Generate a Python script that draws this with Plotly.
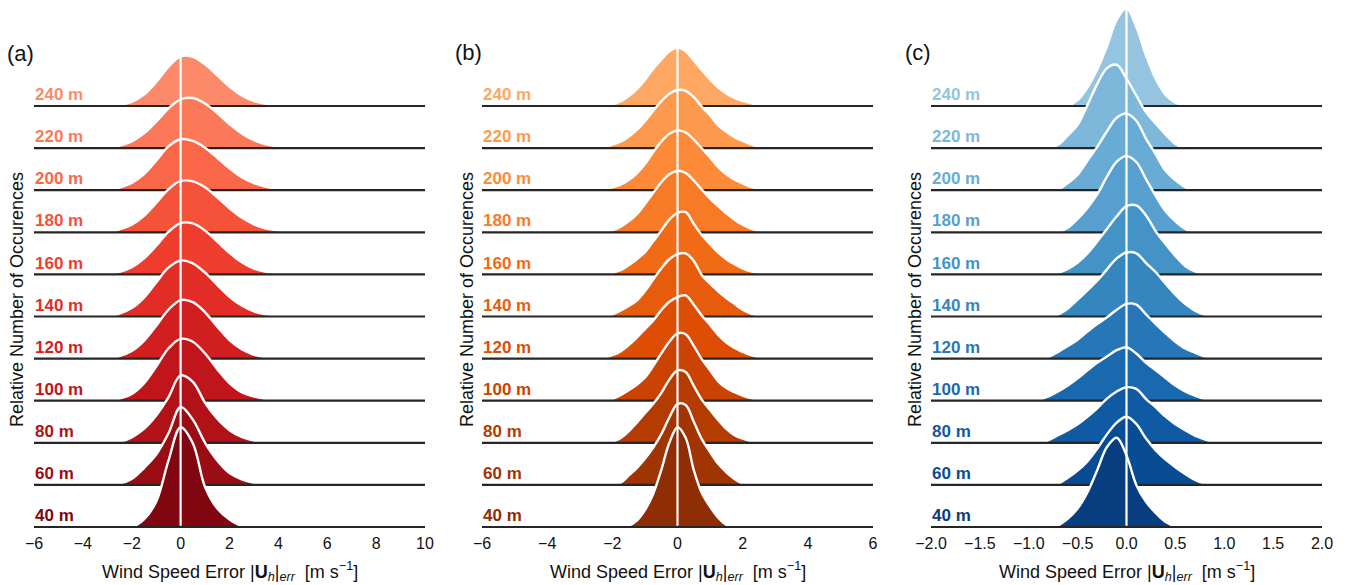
import plotly.graph_objects as go

# ---------------- data ----------------
HEIGHTS = ["40 m", "60 m", "80 m", "100 m", "120 m", "140 m",
           "160 m", "180 m", "200 m", "220 m", "240 m"]

# panel (a): grid of wind-speed error and relative occurrences per height
XA = [-3.0, -2.5, -2.0, -1.5, -1.0, -0.5, 0.0, 0.5, 1.0, 1.5, 2.0, 2.5, 3.0, 3.5, 4.0, 4.5]
A040 = [0, 0, 0, .18, .60, 1.57, 2.37, 1.99, .95, .44, .18, .03, 0, 0, 0, 0]
A060 = [0, .03, .14, .40, .72, 1.22, 1.85, 1.55, 1.00, .58, .28, .13, .05, .01, 0, 0]
A080 = [0, .02, .13, .33, .65, 1.08, 1.60, 1.45, .95, .57, .30, .14, .05, .01, 0, 0]
A100 = [0, .05, .16, .41, .81, 1.24, 1.47, 1.40, 1.12, .75, .42, .20, .10, .04, .01, 0]
A120 = [0, .06, .18, .42, .78, 1.16, 1.39, 1.34, 1.10, .76, .44, .22, .09, .03, .01, 0]
A140 = [0, .07, .20, .45, .81, 1.16, 1.33, 1.26, 1.04, .75, .47, .26, .12, .05, .02, 0]
A160 = [0, .06, .17, .38, .68, 1.01, 1.22, 1.21, 1.04, .78, .51, .29, .14, .06, .02, 0]
A180 = [0, .07, .18, .39, .70, 1.02, 1.22, 1.21, 1.07, .83, .57, .35, .19, .09, .04, 0]
A200 = [0, .06, .17, .38, .70, 1.04, 1.21, 1.17, 1.01, .77, .52, .31, .17, .08, .03, 0]
A220 = [0, .06, .16, .35, .63, .94, 1.16, 1.19, 1.06, .83, .57, .35, .19, .09, .04, 0]
A240 = [0, .03, .10, .27, .57, .93, 1.18, 1.17, .99, .73, .46, .25, .12, .05, .02, 0]

# panel (b)
XB = [-2.5, -2.25, -2.0, -1.75, -1.5, -1.25, -1.0, -0.75, -0.5, -0.25, 0.0,
      0.25, 0.5, 0.75, 1.0, 1.25, 1.5, 1.75, 2.0, 2.25, 2.5, 2.75]
B040 = [0, 0, 0, 0, .03, .15, .40, .78, 1.35, 2.00, 2.37, 2.12, 1.35, .80, .48, .22, .05, 0, 0, 0, 0, 0]
B060 = [0, 0, 0, .05, .22, .40, .62, .88, 1.20, 1.60, 1.92, 1.90, 1.50, 1.08, .78, .50, .30, .14, .03, 0, 0, 0]
B080 = [0, 0, .03, .11, .27, .48, .70, .92, 1.18, 1.50, 1.72, 1.68, 1.35, 1.02, .78, .54, .33, .18, .10, .04, .01, 0]
B100 = [0, .01, .04, .13, .25, .38, .55, .82, 1.12, 1.40, 1.60, 1.58, 1.30, .98, .72, .46, .30, .20, .12, .06, .02, 0]
B120 = [0, .02, .08, .17, .32, .50, .70, .90, 1.15, 1.35, 1.46, 1.50, 1.28, 1.02, .80, .56, .38, .25, .16, .08, .03, 0]
B140 = [0, .01, .05, .14, .25, .38, .60, .87, 1.14, 1.36, 1.48, 1.50, 1.32, .98, .78, .60, .44, .30, .16, .07, .03, 0]
B160 = [0, .01, .04, .10, .22, .36, .53, .78, 1.04, 1.30, 1.46, 1.48, 1.20, .93, .72, .52, .36, .24, .14, .07, .03, 0]
B180 = [0, .02, .05, .13, .26, .43, .67, .93, 1.19, 1.38, 1.46, 1.41, 1.23, 1.01, .80, .62, .45, .30, .18, .09, .04, 0]
B200 = [0, .03, .07, .13, .24, .40, .62, .90, 1.15, 1.34, 1.42, 1.37, 1.20, .99, .78, .55, .38, .25, .16, .08, .03, 0]
B220 = [0, .02, .08, .15, .27, .43, .64, .88, 1.11, 1.29, 1.38, 1.36, 1.21, .98, .78, .54, .39, .26, .17, .09, .03, 0]
B240 = [0, .01, .04, .11, .23, .40, .62, .88, 1.10, 1.30, 1.39, 1.30, 1.08, .85, .63, .44, .30, .19, .12, .07, .03, 0]

# panel (c)
XC = [-1.0, -0.9, -0.8, -0.7, -0.6, -0.5, -0.4, -0.3, -0.2, -0.1, 0.0,
      0.1, 0.2, 0.3, 0.4, 0.5, 0.6, 0.7, 0.8, 0.9]
C040 = [0, 0, .01, .04, .20, .44, .82, 1.35, 1.90, 2.12, 1.70, 1.00, .60, .33, .12, .02, 0, 0, 0, 0]
C060 = [0, 0, .01, .03, .17, .34, .56, .86, 1.20, 1.48, 1.62, 1.45, 1.10, .82, .60, .42, .26, .12, .03, 0]
C080 = [0, .01, .06, .18, .30, .44, .62, .82, 1.05, 1.22, 1.32, 1.28, 1.04, .84, .62, .44, .30, .17, .08, 0]
C100 = [0, .02, .10, .22, .36, .53, .72, .90, 1.05, 1.20, 1.27, 1.12, .90, .72, .54, .36, .22, .12, .04, 0]
C120 = [0, .01, .04, .16, .30, .45, .64, .82, .98, 1.16, 1.30, 1.28, 1.05, .82, .60, .40, .24, .14, .05, 0]
C140 = [0, 0, .01, .05, .19, .40, .62, .85, 1.12, 1.38, 1.52, 1.50, 1.27, 1.05, .78, .52, .30, .14, .04, 0]
C160 = [0, 0, .01, .04, .13, .28, .50, .78, 1.08, 1.38, 1.62, 1.64, 1.40, 1.02, .72, .44, .20, .07, .01, 0]
C180 = [0, 0, 0, .01, .11, .32, .58, .90, 1.32, 1.68, 1.81, 1.67, 1.26, .86, .50, .26, .08, 0, 0, 0]
C200 = [0, 0, 0, .02, .17, .37, .70, 1.03, 1.40, 1.72, 1.82, 1.65, 1.22, .85, .46, .24, .07, 0, 0, 0]
C220 = [0, 0, 0, .08, .30, .55, 1.02, 1.52, 1.90, 1.98, 1.65, 1.25, .85, .58, .32, .10, 0, 0, 0, 0]
C240 = [0, 0, 0, 0, .01, .14, .44, .86, 1.42, 2.05, 2.32, 1.88, 1.20, .64, .26, .08, .01, 0, 0, 0]

PANEL_A = [A040, A060, A080, A100, A120, A140, A160, A180, A200, A220, A240]
PANEL_B = [B040, B060, B080, B100, B120, B140, B160, B180, B200, B220, B240]
PANEL_C = [C040, C060, C080, C100, C120, C140, C160, C180, C200, C220, C240]

X_RANGES = [[-6, 10], [-6, 6], [-2, 2]]
DTICKS = [2, 2, 0.5]
TICKFORMATS = ["d", "d", ".1f"]
PANEL_LABELS = ["(a)", "(b)", "(c)"]

# ---------------- styling ----------------
REDS = ["#fff5f0", "#fee0d2", "#fcbba1", "#fc9272", "#fb6a4a",
        "#ef3b2c", "#cb181d", "#a50f15", "#67000d"]
ORANGES = ["#fff5eb", "#fee6ce", "#fdd0a2", "#fdae6b", "#fd8d3c",
           "#f16913", "#d94801", "#a63603", "#7f2704"]
BLUES = ["#f7fbff", "#deebf7", "#c6dbef", "#9ecae1", "#6baed6",
         "#4292c6", "#2171b5", "#08519c", "#08306b"]


def cmap(anchors, t):
    n = len(anchors) - 1
    pos = t * n
    i = min(int(pos), n - 1)
    f = pos - i
    c0 = [int(anchors[i][j:j + 2], 16) for j in (1, 3, 5)]
    c1 = [int(anchors[i + 1][j:j + 2], 16) for j in (1, 3, 5)]
    c = [round(a + (b - a) * f) for a, b in zip(c0, c1)]
    return "#%02x%02x%02x" % tuple(c)


FONT = "Liberation Sans, Arial, Helvetica, sans-serif"
OFF = 8                      # page body margin
W, H = 1357 - OFF, 585 - OFF
MB = 53
PLOT_H = H - MB              # plot area height in px (top margin 0)
PX_PER_ROW = 42.1
BASE0 = 527 - OFF            # 40 m baseline, px from figure top
Y_RANGE = [-(PLOT_H - BASE0) / PX_PER_ROW, BASE0 / PX_PER_ROW]
PANEL_PX = [(34, 425), (482, 873), (931, 1322)]   # page px of x-range ends
DOMAINS = [[(a - OFF) / W, (b - OFF) / W] for a, b in PANEL_PX]
YTITLE_PX = [17, 467, 915]
PLABEL_PX = [(20, 53), (469, 52), (918, 52)]


def py(page_y):
    return (PLOT_H - (page_y - OFF)) / PLOT_H


def px(page_x):
    return (page_x - OFF) / W


fig = go.Figure()
panels = [(XA, PANEL_A, REDS), (XB, PANEL_B, ORANGES), (XC, PANEL_C, BLUES)]
n = len(HEIGHTS)
annotations = []
shapes = []

for p, (xs, rows, cm) in enumerate(panels):
    xa = "x" if p == 0 else f"x{p + 1}"
    ya = "y" if p == 0 else f"y{p + 1}"
    colors = [cmap(cm, 0.95 - 0.055 * k) for k in range(n)]
    # draw from top row (240 m) down to bottom row (40 m)
    for k in range(n - 1, -1, -1):
        vals = rows[k]
        fig.add_trace(go.Scatter(
            x=xs, y=[k + v for v in vals], mode="lines",
            line=dict(color="white", width=2.4, shape="spline", smoothing=1),
            fill="toself", fillcolor=colors[k],
            xaxis=xa, yaxis=ya, showlegend=False, hoverinfo="skip"))
        fig.add_trace(go.Scatter(
            x=X_RANGES[p], y=[k, k], mode="lines",
            line=dict(color="#262626", width=2.2),
            xaxis=xa, yaxis=ya, showlegend=False, hoverinfo="skip"))
        annotations.append(dict(
            x=X_RANGES[p][0], y=k + 0.27, xref=xa, yref=ya,
            text=f"<b>{HEIGHTS[k]}</b>", showarrow=False,
            xanchor="left", yanchor="middle", xshift=-1,
            font=dict(family=FONT, size=17, color=colors[k])))
    shapes.append(dict(type="line", xref=xa, yref=ya, x0=0, x1=0,
                       y0=0.03, y1=12.3, layer="above",
                       line=dict(color="white", width=2.2)))

    d0, d1 = DOMAINS[p]
    xc = (d0 + d1) / 2
    annotations.append(dict(
        x=xc, y=py(571), xref="paper", yref="paper",
        text="Wind Speed Error |<b>U</b><sub><i>h</i></sub>|<sub><i>err</i></sub>  [m s<sup>\u22121</sup>]",
        showarrow=False, xanchor="center", yanchor="middle",
        font=dict(family=FONT, size=18, color="#111")))
    annotations.append(dict(
        x=px(YTITLE_PX[p]), y=py(300), xref="paper", yref="paper",
        text="Relative Number of Occurences", textangle=-90,
        showarrow=False, xanchor="center", yanchor="middle",
        font=dict(family=FONT, size=18, color="#111")))
    annotations.append(dict(
        x=px(PLABEL_PX[p][0]), y=py(PLABEL_PX[p][1]), xref="paper", yref="paper",
        text=PANEL_LABELS[p], showarrow=False, xanchor="center", yanchor="middle",
        font=dict(family=FONT, size=22, color="#111")))

    xaxis = dict(domain=DOMAINS[p], range=X_RANGES[p], dtick=DTICKS[p],
                 tick0=0, tickformat=TICKFORMATS[p], showgrid=False,
                 zeroline=False, showline=False, ticks="", automargin=False,
                 tickfont=dict(family=FONT, size=16, color="#111"),
                 anchor=ya, fixedrange=True)
    yaxis = dict(domain=[0, 1], range=Y_RANGE, showgrid=False, zeroline=False,
                 showline=False, showticklabels=False, ticks="", automargin=False,
                 anchor=xa, fixedrange=True)
    key = "" if p == 0 else str(p + 1)
    fig.update_layout(**{f"xaxis{key}": xaxis, f"yaxis{key}": yaxis})

fig.update_layout(
    template="none",
    width=W, height=H,
    margin=dict(l=0, r=0, t=0, b=MB, pad=0),
    paper_bgcolor="white", plot_bgcolor="white",
    annotations=annotations, shapes=shapes,
    font=dict(family=FONT, color="#111"),
)

fig.write_html("out.html")
